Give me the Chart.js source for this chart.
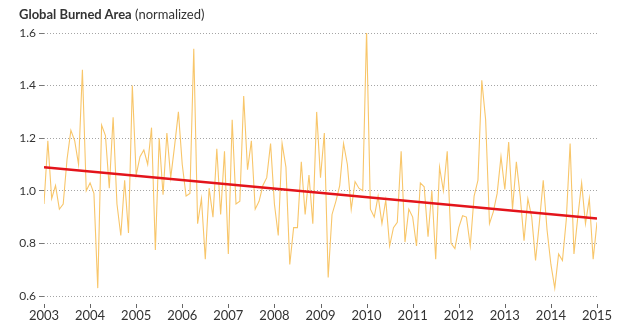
<!DOCTYPE html>
<html><head><meta charset="utf-8">
<script src="https://cdn.jsdelivr.net/npm/chart.js@4/dist/chart.umd.min.js"></script>
<style>
html,body{margin:0;padding:0;background:#fff;width:640px;height:325px;overflow:hidden}
#wrap{position:relative;width:640px;height:325px}
#title{position:absolute;left:19px;top:6px;font-family:Lato,"Open Sans",sans-serif;font-size:13px;color:#333;white-space:nowrap}
#title b{font-weight:700}
canvas{position:absolute;left:0;top:0}
</style></head>
<body><div id="wrap"><canvas id="c" width="640" height="325"></canvas><div id="title"><b>Global Burned Area</b> (normalized)</div></div>
<script>
const startYear = 2003;
const burned2003 = [0.95, 1.19, 0.97, 1.02, 0.93, 0.95, 1.12, 1.23, 1.19, 1.10, 1.46, 1.00];
const burned2004 = [1.03, 0.99, 0.63, 1.25, 1.21, 1.01, 1.28, 0.95, 0.83, 1.04, 0.84, 1.40];
const burned2005 = [1.06, 1.13, 1.155, 1.10, 1.24, 0.775, 1.20, 0.985, 1.22, 1.05, 1.17, 1.30];
const burned2006 = [1.10, 0.98, 0.99, 1.54, 0.875, 0.97, 0.74, 1.01, 0.90, 1.16, 0.91, 1.15];
const burned2007 = [0.76, 1.27, 0.95, 0.96, 1.36, 1.08, 1.19, 0.93, 0.96, 1.02, 1.05, 1.18];
const burned2008 = [0.95, 0.83, 1.18, 1.09, 0.72, 0.86, 0.86, 1.11, 0.91, 1.06, 0.875, 1.30];
const burned2009 = [1.05, 1.22, 0.67, 0.91, 0.96, 1.02, 1.18, 1.10, 0.93, 1.035, 1.01, 1.00];
const burned2010 = [1.61, 0.93, 0.90, 0.98, 0.875, 0.965, 0.79, 0.86, 0.88, 1.15, 0.805, 0.93];
const burned2011 = [0.90, 0.79, 1.03, 1.015, 0.825, 1.00, 0.74, 1.09, 1.00, 1.15, 0.80, 0.78];
const burned2012 = [0.86, 0.905, 0.90, 0.79, 0.98, 1.04, 1.42, 1.27, 0.875, 0.92, 0.99, 1.13];
const burned2013 = [1.005, 1.185, 0.93, 1.11, 0.98, 0.81, 0.97, 0.90, 0.735, 0.88, 1.04, 0.85];
const burned2014 = [0.72, 0.63, 0.76, 0.735, 0.89, 1.18, 0.76, 0.90, 1.03, 0.875, 0.97, 0.74];
const burned2015 = [0.88];

const trendYears = [2003, 2015];
const trendValues = [1.09, 0.895];

const xTickYears = [2003, 2004, 2005, 2006, 2007, 2008, 2009, 2010, 2011, 2012, 2013, 2014, 2015];
const yTickValues = [0.6, 0.8, 1.0, 1.2, 1.4, 1.6];

const monthly = [].concat(burned2003, burned2004, burned2005, burned2006, burned2007, burned2008,
  burned2009, burned2010, burned2011, burned2012, burned2013, burned2014, burned2015);
const monthlyPoints = monthly.map((v, i) => ({ x: startYear + i / 12, y: v }));
const trendPoints = trendYears.map((x, i) => ({ x: x, y: trendValues[i] }));

const xTickMarks = {
  id: 'xTickMarks',
  afterDraw(chart) {
    const ctx = chart.ctx, xs = chart.scales.x, b = chart.chartArea.bottom;
    ctx.save();
    ctx.strokeStyle = '#666';
    ctx.lineWidth = 1;
    xTickYears.forEach(y => {
      const px = Math.round(xs.getPixelForValue(y)) + 0.5;
      ctx.beginPath(); ctx.moveTo(px, b + 8); ctx.lineTo(px, b + 12); ctx.stroke();
    });
    ctx.restore();
  }
};

new Chart(document.getElementById('c'), {
  type: 'line',
  data: {
    datasets: [
      { data: monthlyPoints, borderColor: '#F8C66A', borderWidth: 1.1, pointRadius: 0, tension: 0, order: 2 },
      { data: trendPoints, borderColor: '#E3141B', borderWidth: 2.5, pointRadius: 0, tension: 0, order: 1 }
    ]
  },
  plugins: [xTickMarks],
  options: {
    responsive: false,
    animation: false,
    plugins: { legend: { display: false }, tooltip: { enabled: false } },
    layout: { padding: { top: 33, right: 43, left: 0, bottom: 0 } },
    scales: {
      x: {
        type: 'linear', min: 2003, max: 2015,
        afterBuildTicks: s => { s.ticks = xTickYears.map(v => ({ value: v })); },
        afterFit: s => { s.height = 29; },
        ticks: { callback: v => String(v), font: { family: 'Lato', size: 13 }, color: '#333', padding: 12, maxRotation: 0, autoSkip: false },
        grid: { drawOnChartArea: false, drawTicks: false },
        border: { display: false }
      },
      y: {
        min: 0.6, max: 1.6,
        afterBuildTicks: s => { s.ticks = yTickValues.map(v => ({ value: v })); },
        afterFit: s => { s.width = 44; },
        ticks: { callback: v => v.toFixed(1), font: { family: 'Lato', size: 12 }, color: '#333', padding: 3 },
        grid: { color: '#a5a5a5', lineWidth: 1, drawTicks: true, tickLength: 5, tickColor: '#777', tickBorderDash: [] },
        border: { display: false, dash: [1, 2] }
      }
    }
  }
});
</script>
</body></html>
